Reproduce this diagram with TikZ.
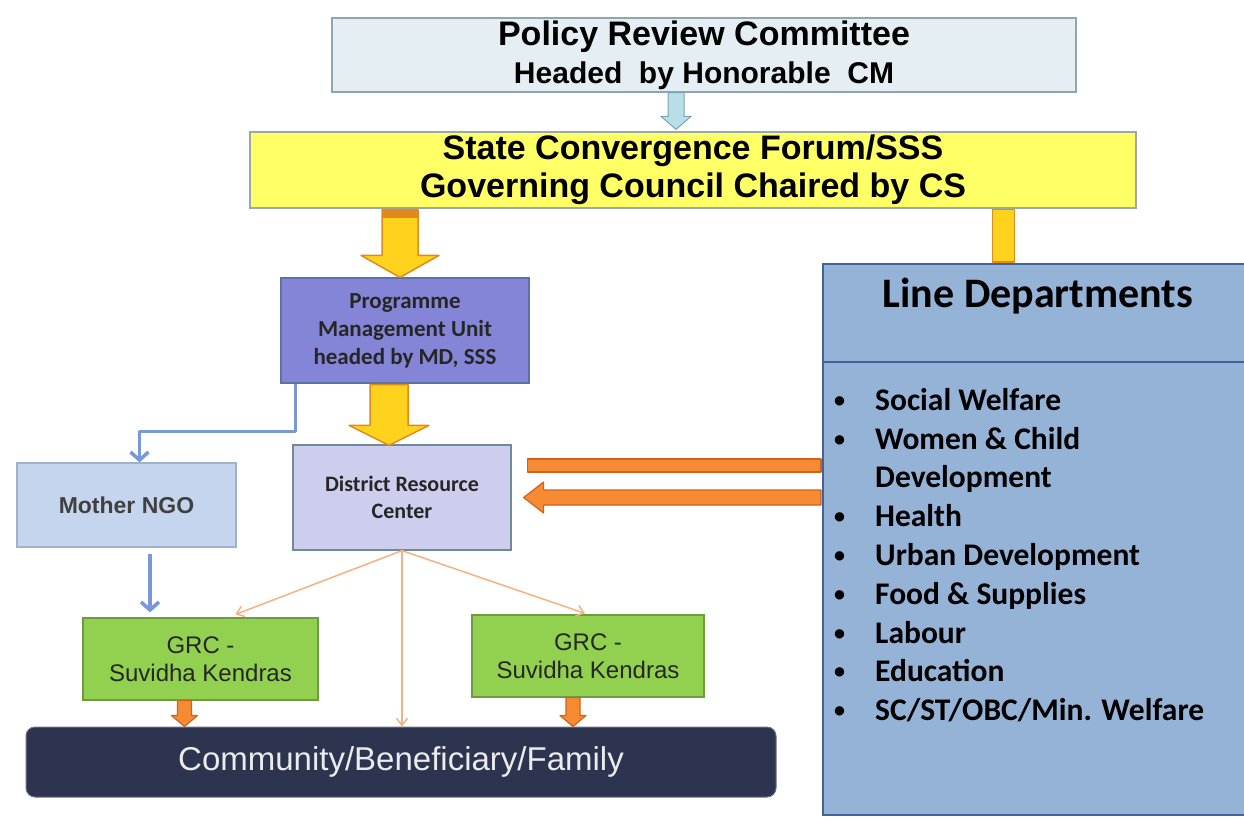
\documentclass[tikz,border=0pt]{standalone}
\usepackage{fontspec}
\setmainfont{Liberation Sans}
\newfontfamily\calibri{Carlito}
\usetikzlibrary{calc,arrows.meta}

\definecolor{prcfill}{HTML}{E5EFF3}
\definecolor{prcline}{HTML}{8FA6AE}
\definecolor{scffill}{HTML}{FFFF66}
\definecolor{scfline}{HTML}{9AA8A8}
\definecolor{goldfill}{HTML}{FFD21E}
\definecolor{goldline}{HTML}{E08A1E}
\definecolor{pmufill}{HTML}{8585D8}
\definecolor{pmuline}{HTML}{5A72A8}
\definecolor{drcfill}{HTML}{CDCDEE}
\definecolor{drcline}{HTML}{6E8C98}
\definecolor{ngofill}{HTML}{C6D5EE}
\definecolor{ngoline}{HTML}{9FB2CC}
\definecolor{grcfill}{HTML}{92D050}
\definecolor{grcline}{HTML}{6E9A40}
\definecolor{comfill}{HTML}{2C3450}
\definecolor{ldfill}{HTML}{95B3D7}
\definecolor{ldline}{HTML}{41639A}
\definecolor{orfill}{HTML}{F68B33}
\definecolor{orline}{HTML}{D0621C}
\definecolor{thinor}{HTML}{F4B183}
\definecolor{bluearr}{HTML}{7898D8}
\definecolor{skyfill}{HTML}{B8DEE8}
\definecolor{skyline}{HTML}{78A6B2}

% block arrow pointing down: style, from, tip, half shaft, half head, head length
\newcommand{\blockdown}[6]{%
  \draw[#1] let \p1=#2, \p2=#3 in
    (\x2-#4,\y1) -- (\x2+#4,\y1) -- (\x2+#4,\y2+#6) -- (\x2+#5,\y2+#6)
    -- (\x2,\y2) -- (\x2-#5,\y2+#6) -- (\x2-#4,\y2+#6) -- cycle;}
% block arrow pointing left
\newcommand{\blockleft}[6]{%
  \draw[#1] let \p1=#2, \p2=#3 in
    (\x1,\y1+#4) -- (\x2+#6,\y1+#4) -- (\x2+#6,\y1+#5) -- (\x2,\y1)
    -- (\x2+#6,\y1-#5) -- (\x2+#6,\y1-#4) -- (\x1,\y1-#4) -- cycle;}
\newcommand{\ldbullet}{\makebox[41pt][l]{\raisebox{3pt}{\fontsize{22}{22}\selectfont•}}}

\begin{document}
\begin{tikzpicture}[x=1pt,y=-1pt,
    box/.style={draw=#1,line width=1.2pt,inner sep=0pt,align=center},
    yarrow/.style={fill=goldfill,draw=goldline,line width=1.5pt,line join=round},
    oarrow/.style={fill=orfill,draw=orline,line width=1.2pt,line join=round},
    skyarrow/.style={fill=skyfill,draw=skyline,line width=1pt},
    bluearr/.style={draw=bluearr,line width=3.6pt,-{Straight Barb[length=8pt,width=18pt]}},
    thinarr/.style={draw=thinor,line width=1.5pt,-{Straight Barb[length=7pt,width=11pt]}}]
  \useasboundingbox (0,0) rectangle (1244,819);

  \node[box=prcline,fill=prcfill,minimum width=744pt,minimum height=74pt,font=\bfseries] (prc) at (704,55)
    {\fontsize{34}{38}\selectfont Policy Review Committee\\[8pt]
     \fontsize{30}{36}\selectfont Headed\ \ by Honorable\ \ CM};
  \node[box=scfline,fill=scffill,minimum width=886pt,minimum height=76pt,
    font=\fontsize{34}{38}\selectfont\bfseries] (scf) at (693,170)
    {State Convergence Forum/SSS\\Governing Council Chaired by CS};
  \node[box=pmuline,fill=pmufill,minimum width=248pt,minimum height=105pt,
    font=\calibri\fontsize{23}{28}\selectfont\bfseries,text=black!85] (pmu) at (405,330.5)
    {Programme\\Management Unit\\headed by MD, SSS};
  \node[box=drcline,fill=drcfill,minimum width=218pt,minimum height=105pt,
    font=\calibri\fontsize{22}{27}\selectfont\bfseries,text=black!85] (drc) at (402,497.5)
    {District Resource\\Center};
  \node[box=ngoline,fill=ngofill,minimum width=219pt,minimum height=84pt,
    font=\fontsize{23}{28}\selectfont\bfseries,text=black!75] (ngo) at (126.5,505)
    {Mother NGO};
  \node[box=grcline,fill=grcfill,minimum width=235pt,minimum height=82pt,
    font=\fontsize{24}{28}\selectfont,text=black!85] (grc1) at (200.5,659)
    {GRC -\\Suvidha Kendras};
  \node[box=grcline,fill=grcfill,minimum width=232pt,minimum height=82pt,
    font=\fontsize{24}{28}\selectfont,text=black!85] (grc2) at (588,656)
    {GRC -\\Suvidha Kendras};
  \node[draw=comfill!70,fill=comfill,rounded corners=9pt,line width=1pt,
    minimum width=750pt,minimum height=70pt,inner sep=0pt,
    font=\fontsize{33}{38}\selectfont,text=white!92!black] (com) at (401,762)
    {Community/Beneficiary/Family};
  \node[draw=ldline,fill=ldfill,line width=2pt,minimum width=424pt,minimum height=551pt,
    inner sep=0pt] (ld) at (1035,539.5) {};
  \draw[ldline,line width=2pt] ($(ld.north west)+(0,99)$) -- ($(ld.north east)+(0,99)$);
  \node[font=\calibri\fontsize{42}{48}\selectfont\bfseries] (ldt) at ($(ld.north)+(3,33)$)
    {Line Departments};
  \node[anchor=north west,inner sep=0pt,align=left,
    font=\calibri\fontsize{31.5}{38.8}\selectfont\bfseries] (ldl) at ($(ld.north west)+(12,125)$)
    {\ldbullet Social Welfare\\
     \ldbullet Women \& Child\\
     \makebox[41pt][l]{}Development\\
     \ldbullet Health\\
     \ldbullet Urban Development\\
     \ldbullet Food \& Supplies\\
     \ldbullet Labour\\
     \ldbullet Education\\
     \ldbullet SC/ST/OBC/Min. Welfare};

  % block arrows
  \blockdown{skyarrow}{(prc.south)}{($(prc.south |- scf.north)+(-28,-2)$)}{8pt}{15pt}{13pt}
  \blockdown{yarrow}{($(scf.south)+(0,1)$)}{($(pmu.north)+(-5,0)$)}{18pt}{39pt}{22pt}
  \fill[goldline] ($(scf.south)+(-311,1.5)$) rectangle ($(scf.south)+(-275,9)$);
  \blockdown{yarrow}{($(pmu.south)+(0,1)$)}{($(drc.north)+(-13,1)$)}{19pt}{40pt}{20pt}
  \draw[yarrow] ($(scf.south east)+(-144,1)$) rectangle ($(ld.north)+(-20.5,-1)$);
  \draw[oarrow] ($(drc.east)+(16,-38.5)$) rectangle ($(ld.west |- drc.east)+(-1,-25.5)$);
  \blockleft{oarrow}{($(ld.west |- drc.east)+(-1,0)$)}{($(drc.east)+(12,0)$)}{7.5pt}{15.5pt}{20pt}
  \blockdown{oarrow}{(grc1.south)}{($(grc1.south |- com.north)+(-16,0)$)}{7pt}{13pt}{11pt}
  \blockdown{oarrow}{(grc2.south)}{($(grc2.south |- com.north)+(-15,0)$)}{7pt}{13pt}{11pt}

  % blue arrows
  \draw[bluearr,line join=round] ($(pmu.south west)+(15,0)$) -- ++(0,48) -| ($(ngo.north)+(13,0)$);
  \coordinate (nb) at ($(ngo.south)+(23.5,0)$);
  \draw[bluearr,shorten <=6pt,shorten >=5pt] (nb) -- (nb |- grc1.north);

  % thin arrows from the resource center
  \draw[thinarr] (drc.south) -- ($(grc1.north)+(35,-3)$);
  \draw[thinarr] (drc.south) -- (drc.south |- com.north);
  \draw[thinarr] (drc.south) -- ($(grc2.north)+(-3,-1)$);
\end{tikzpicture}
\end{document}
